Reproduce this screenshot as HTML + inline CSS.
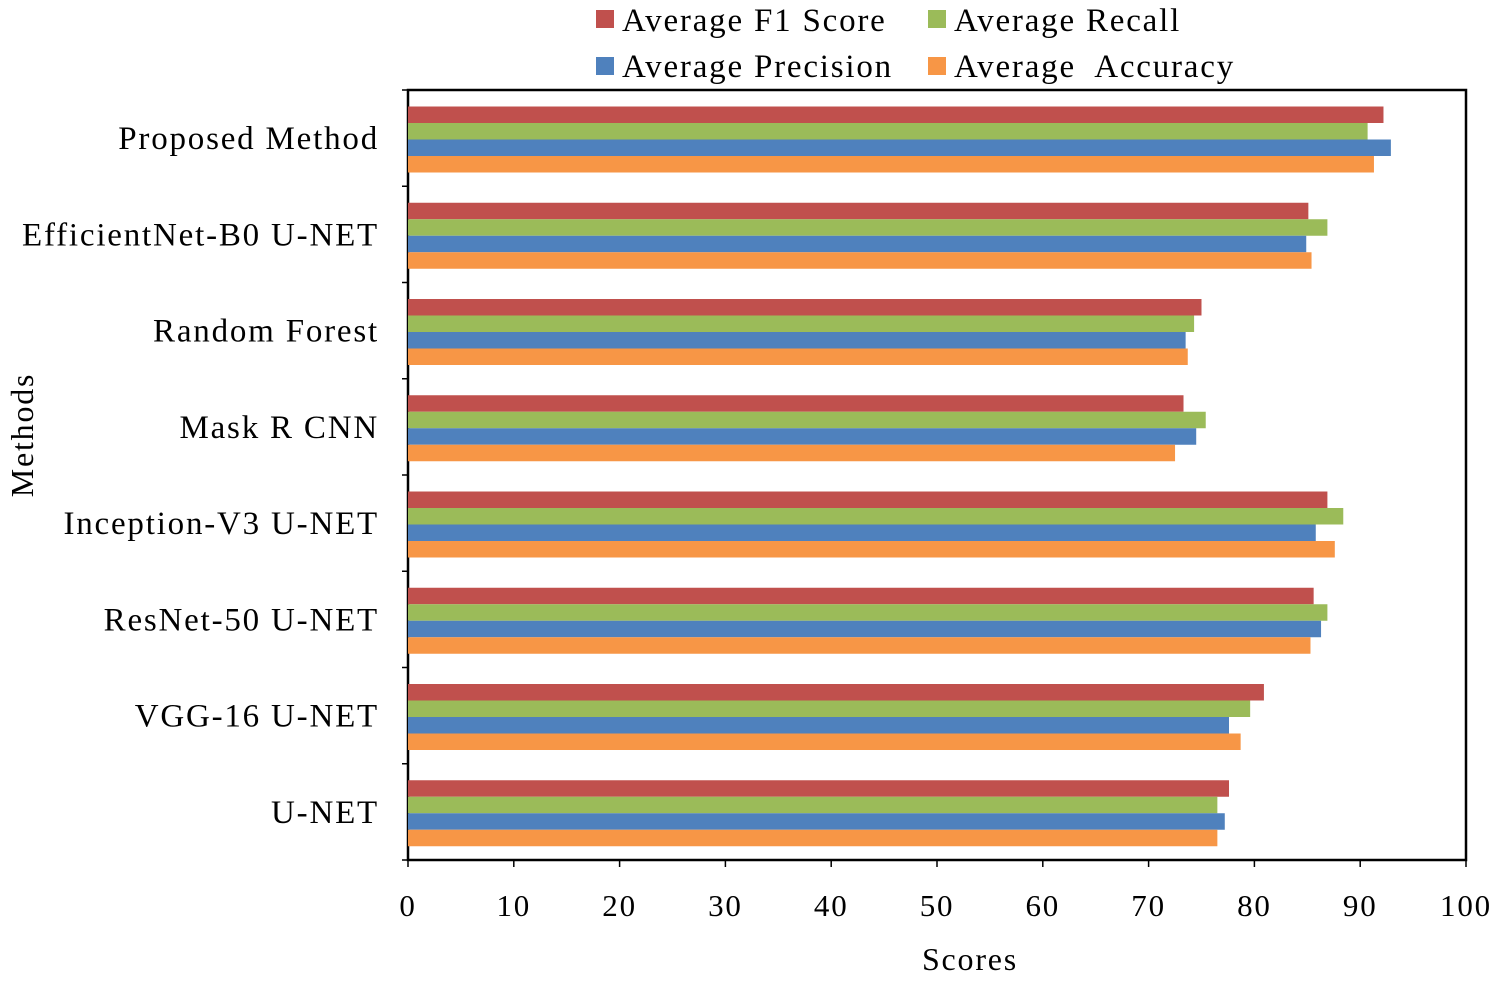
<!DOCTYPE html>
<html><head><meta charset="utf-8"><style>
body{margin:0;background:#fff;}
svg text{font-family:"Liberation Serif",serif;fill:#000;}
.wide{letter-spacing:1.8px;}
</style></head><body>
<svg id="chart" width="1500" height="977">
<g id="legend">
<g><rect x="596" y="10" width="18" height="18" fill="#C0504D"/><text class="wide" x="622" y="31" font-size="33">Average F1 Score</text></g>
<g><rect x="928" y="10" width="18" height="18" fill="#9BBB59"/><text class="wide" x="954" y="31" font-size="33">Average Recall</text></g>
<g><rect x="596" y="57" width="18" height="18" fill="#4F81BD"/><text class="wide" x="622" y="77" font-size="33">Average Precision</text></g>
<g><rect x="928" y="57" width="18" height="18" fill="#F79646"/><text class="wide" x="954" y="77" font-size="33" xml:space="preserve">Average  Accuracy</text></g>
</g>
<g id="plot"></g>
<text class="wide" x="970" y="970" font-size="32" text-anchor="middle">Scores</text>
<text class="wide" transform="translate(33,435) rotate(-90)" font-size="32" text-anchor="middle">Methods</text>
</svg>
<script>
const categories=["Proposed Method","EfficientNet-B0 U-NET","Random Forest","Mask R CNN","Inception-V3 U-NET","ResNet-50 U-NET","VGG-16 U-NET","U-NET"];
const f1=[92.2,85.1,75.0,73.3,86.9,85.6,80.9,77.6];
const recall=[90.7,86.9,74.3,75.4,88.4,86.9,79.6,76.5];
const precision=[92.9,84.9,73.5,74.5,85.8,86.3,77.6,77.2];
const accuracy=[91.3,85.4,73.7,72.5,87.6,85.3,78.7,76.5];
const xTicks=[0,10,20,30,40,50,60,70,80,90,100];
const seriesNames=["f1","recall","precision","accuracy"];
const NS="http://www.w3.org/2000/svg";
const L=408,R=1466,T=90,B=860;
const xs=v=>L+(v/100)*(R-L);
const gh=(B-T)/categories.length;
const g=document.getElementById('plot');
function mk(t,a){const e=document.createElementNS(NS,t);for(const k in a)e.setAttribute(k,a[k]);g.appendChild(e);return e;}
const frame=mk('rect',{x:L,y:T,width:R-L,height:B-T,fill:'none',stroke:'#000','stroke-width':2.5});


const series=[f1,recall,precision,accuracy];
const colors=["#C0504D","#9BBB59","#4F81BD","#F79646"];
const bh=16.5;
categories.forEach((c,i)=>{
  const y0=T+i*gh+16.5;
  series.forEach((s,j)=>{
    const r=mk('rect',{x:L,y:y0+j*bh,width:xs(s[i])-L,height:bh,fill:colors[j]});
    
    
  });
  const t=mk('text',{x:379,y:T+i*gh+gh/2+11,'font-size':33,'text-anchor':'end','class':'wide'});
  t.textContent=c;
  
  
});
for(let i=0;i<=categories.length;i++){
  const tk=mk('line',{x1:L-6,x2:L,y1:T+i*gh,y2:T+i*gh,stroke:'#000','stroke-width':1.5});
  
  
}
xTicks.forEach(v=>{
  const tk=mk('line',{x1:xs(v),x2:xs(v),y1:B,y2:B+7,stroke:'#000','stroke-width':1.5});
  
  
  const t=mk('text',{x:xs(v),y:B+56,'font-size':31,'text-anchor':'middle','class':'wide'});
  t.textContent=v;
  
  
});
</script>
</body></html>
